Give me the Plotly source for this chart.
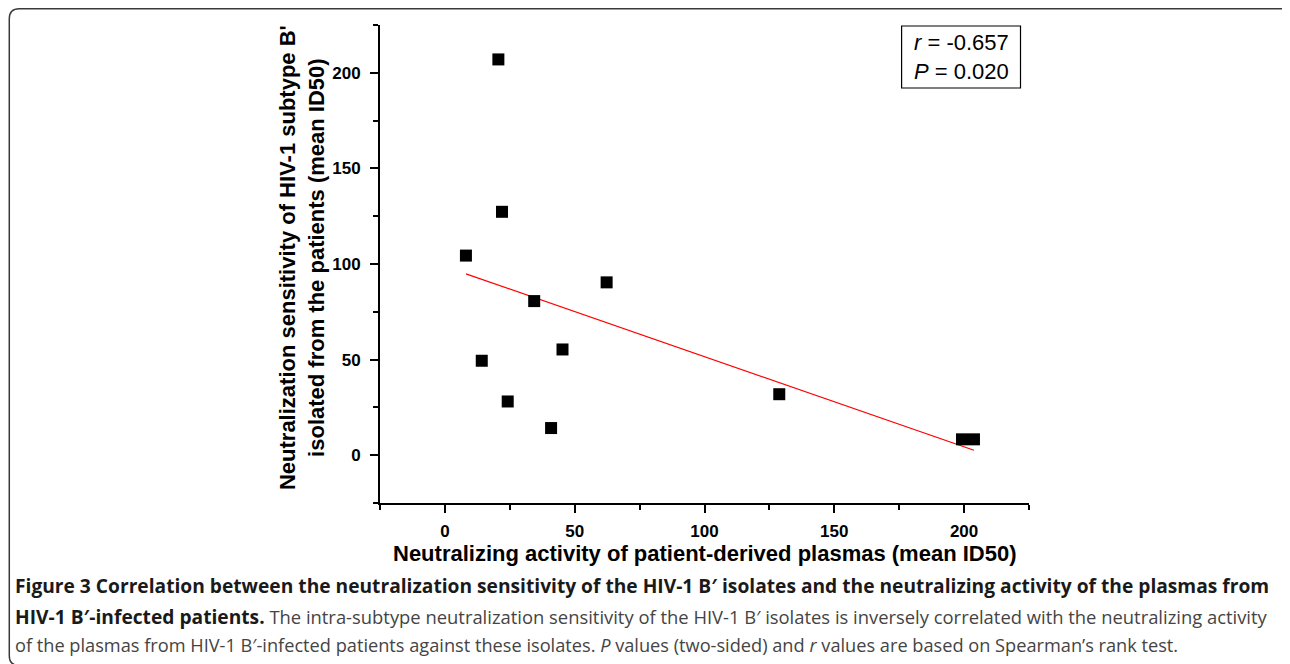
import numpy as np
import plotly.graph_objects as go

# Data
plasma_activity = [20.6, 22.0, 8.1, 62.3, 34.4, 45.3, 14.2, 24.2, 40.9, 128.8, 199.2, 203.8]
isolate_sensitivity = [207.0, 127.3, 104.4, 90.4, 80.6, 55.3, 49.4, 28.1, 14.2, 31.9, 8.3, 8.3]
x_ticks = [0, 50, 100, 150, 200]
y_ticks = [0, 50, 100, 150, 200]
stats_text = "<i>r</i> = -0.657<br><i>P</i> = 0.020"

# page body has an 8px margin: the figure starts at screen (8, 8)
OFF = 8
SW, SH = 1290, 664
W, H = SW - OFF, SH - OFF
L, R, T, B = 380, 1029.5, 25, 503  # plot area in screen pixels


def px(xs):
    return (xs - L) / (R - L)


def py(ys):
    return (B - ys) / (B - T)


slope, intercept = np.polyfit(plasma_activity, isolate_sensitivity, 1)
fit_x = [min(plasma_activity), max(plasma_activity)]
fit_y = [slope * v + intercept for v in fit_x]

fig = go.Figure()
fig.add_trace(go.Scatter(x=fit_x, y=fit_y, mode="lines",
                         line=dict(color="#ff0000", width=1.2), showlegend=False))
fig.add_trace(go.Scatter(x=plasma_activity, y=isolate_sensitivity, mode="markers",
                         marker=dict(symbol="square", size=12, color="black"),
                         showlegend=False))

axis_common = dict(
    showgrid=False, zeroline=False, showline=True, linecolor="black", linewidth=2,
    ticks="outside", ticklen=8, tickwidth=2, tickcolor="black",
    tickfont=dict(family="Liberation Sans, Arial", size=17, color="black", weight="bold"),
    minor=dict(dtick=25, tick0=0, ticks="outside", ticklen=5, tickwidth=2, tickcolor="black"),
)
fig.update_xaxes(range=[-25, 225], tickvals=x_ticks, ticktext=[str(v) for v in x_ticks],
                 ticklabelstandoff=4, **axis_common)
fig.update_yaxes(range=[-25, 225], tickvals=y_ticks, ticktext=[str(v) for v in y_ticks],
                 ticklabelstandoff=6, **axis_common)

title_font = dict(family="Liberation Sans, Arial", size=22, color="black", weight="bold")
annotations = [
    dict(text="Neutralizing activity of patient-derived plasmas (mean ID50)",
         xref="paper", yref="paper", x=px(705), y=py(553), xanchor="center", yanchor="middle",
         showarrow=False, font=title_font),
    dict(text="Neutralization sensitivity of HIV-1 subtype B'<br>isolated from the patients (mean ID50)",
         xref="paper", yref="paper", x=px(302), y=py(258), xanchor="center", yanchor="middle",
         textangle=-90, showarrow=False, font=title_font),
    dict(text=stats_text, xref="paper", yref="paper", x=px(961.5), y=py(57),
         xanchor="center", yanchor="middle", showarrow=False, align="center",
         font=dict(family="Liberation Sans, Arial", size=22, color="black")),
]

reg = "color:#444444;font-size:18.2px"
bold = "font-size:19.2px"
reg2 = "color:#444444;font-size:18.4px"
caption_lines = [
    f"<span style='{bold}'><b>Figure 3 Correlation between the neutralization sensitivity of the HIV-1 B\u2032 isolates and the neutralizing activity of the plasmas from</b></span>",
    f"<span style='{bold}'><b>HIV-1 B\u2032-infected patients.</b></span><span style='{reg2}'> The intra-subtype neutralization sensitivity of the HIV-1 B\u2032 isolates is inversely correlated with the neutralizing activity</span>",
    f"<span style='{reg}'>of the plasmas from HIV-1 B\u2032-infected patients against these isolates. <i>P</i> values (two-sided) and <i>r</i> values are based on Spearman\u2019s rank test.</span>",
]
caption_y = [585, 616, 645]
for line, yy in zip(caption_lines, caption_y):
    annotations.append(dict(text=line, xref="paper", yref="paper", x=px(13), y=py(yy),
                            xanchor="left", yanchor="middle", showarrow=False, align="left",
                            font=dict(family="Open Sans, Noto Sans", size=18, color="#1a1a1a")))

# rounded frame around the figure (screen pixels)
r = 10
x0, y0, x1, y1 = 9, 8.8, 1298, 665.5
pts = (f"M {px(x0)},{py(y0 + r)} Q {px(x0)},{py(y0)} {px(x0 + r)},{py(y0)} "
       f"L {px(x1 - r)},{py(y0)} Q {px(x1)},{py(y0)} {px(x1)},{py(y0 + r)} "
       f"L {px(x1)},{py(y1 - r)} Q {px(x1)},{py(y1)} {px(x1 - r)},{py(y1)} "
       f"L {px(x0 + r)},{py(y1)} Q {px(x0)},{py(y1)} {px(x0)},{py(y1 - r)} Z")
shapes = [
    dict(type="path", path=pts, xref="paper", yref="paper",
         line=dict(color="#3a3a3a", width=1.5), fillcolor="rgba(0,0,0,0)", layer="below"),
    dict(type="rect", xref="paper", yref="paper", x0=px(902), x1=px(1021), y0=py(88), y1=py(26),
         line=dict(color="black", width=1.2), fillcolor="white"),
]

fig.update_layout(
    width=W, height=H, autosize=False,
    margin=dict(l=L - OFF, r=SW - R, t=T - OFF, b=SH - B, pad=0),
    paper_bgcolor="white", plot_bgcolor="white",
    annotations=annotations, shapes=shapes,
)

fig.write_html("out.html")
